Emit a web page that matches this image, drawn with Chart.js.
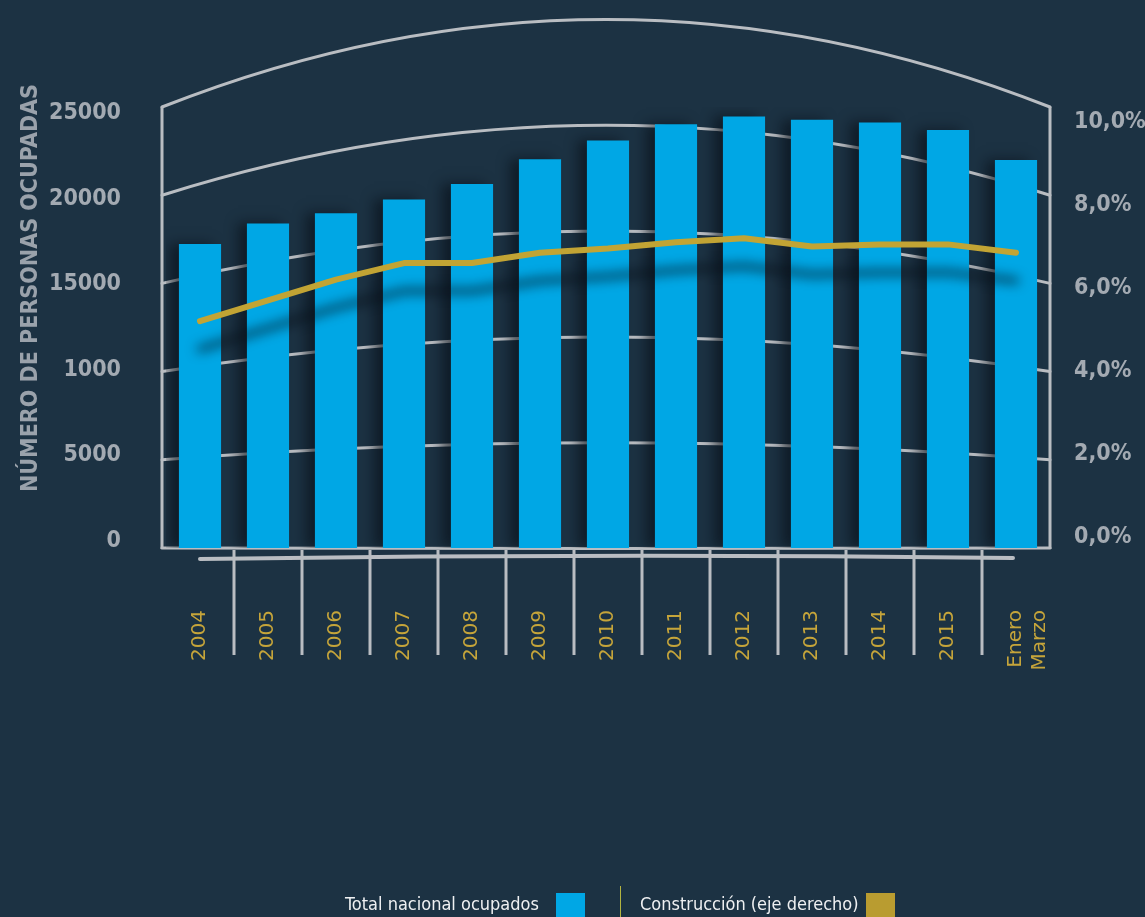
<!DOCTYPE html>
<html lang="es">
<head>
<meta charset="utf-8">
<title>Número de personas ocupadas</title>
<script src="https://cdn.jsdelivr.net/npm/chart.js@4.4.1/dist/chart.umd.min.js"></script>
<style>
  html, body { margin: 0; padding: 0; background: #1c3243; }
  #wrap { position: relative; width: 1145px; height: 917px; overflow: hidden; background: #1c3243; }
  #chart { position: absolute; left: 0; top: 0; }
  .legend-text { position: absolute; top: 893px; font-family: 'DejaVu Sans Condensed', 'Liberation Sans Narrow', 'Roboto', sans-serif; font-size: 18px; color: #eef0f2; white-space: nowrap; }
  .swatch { position: absolute; top: 893px; width: 29px; height: 24px; }
  .divider { position: absolute; left: 620px; top: 886px; width: 1px; height: 31px; background: #b3b440; }
</style>
</head>
<body>
<div id="wrap">
  <canvas id="chart" width="1145" height="917"></canvas>
  <div class="legend-text" style="left:345px;">Total nacional ocupados</div>
  <div class="swatch" style="left:556px;background:#00a7e5;"></div>
  <div class="divider"></div>
  <div class="legend-text" style="left:640px;">Construcción (eje derecho)</div>
  <div class="swatch" style="left:866px;background:#b99c30;"></div>
</div>
<script>
(function () {
  'use strict';

  // categories and values
  var years = ['2004', '2005', '2006', '2007', '2008', '2009', '2010', '2011', '2012', '2013', '2014', '2015', ['Enero', 'Marzo']];
  var ocupados = [17350, 18550, 19150, 19950, 20850, 22300, 23400, 24350, 24800, 24600, 24450, 24000, 22250];
  var construccion = [5.2, 5.7, 6.2, 6.6, 6.6, 6.85, 6.95, 7.1, 7.2, 7.0, 7.05, 7.05, 6.85];

  // axis ticks, as printed
  var leftTickValues = [0, 5000, 10000, 15000, 20000, 25000];
  var leftTickLabels = ['0', '5000', '1000', '15000', '20000', '25000'];
  var rightTickValues = [0, 2, 4, 6, 8, 10];
  var rightTickLabels = ['0,0%', '2,0%', '4,0%', '6,0%', '8,0%', '10,0%'];

  var yTitle = 'NÚMERO DE PERSONAS OCUPADAS';

  var COND = "'DejaVu Sans Condensed', 'Liberation Sans Narrow', 'Roboto', sans-serif";
  var FRAME = '#b9bdc2';
  var LEFT_MIN = -400;

  // curved grid, frame and separators behind the bars
  var framePlugin = {
    id: 'frame',
    beforeDatasetsDraw: function (chart) {
      var ctx = chart.ctx;
      var a = chart.chartArea;
      var L = a.left - 4, R = a.right;
      var cx = (L + R) / 2;
      var bottom = a.bottom, top = a.top;
      ctx.save();
      ctx.strokeStyle = FRAME;
      ctx.lineWidth = 3;
      ctx.lineCap = 'round';
      for (var i = 0; i < leftTickValues.length; i++) {
        var f = i / (leftTickValues.length - 1);
        var yE = bottom - (bottom - top) * f;
        var yC = (bottom - 3) - (bottom - 3 - yE) * 1.2;
        ctx.beginPath();
        ctx.moveTo(L, yE);
        ctx.quadraticCurveTo(cx, 2 * yC - yE, R, yE);
        ctx.stroke();
      }
      ctx.lineCap = 'butt';
      ctx.beginPath();
      ctx.moveTo(L, top);
      ctx.lineTo(L, bottom + 1);
      ctx.moveTo(R, top);
      ctx.lineTo(R, bottom + 1);
      ctx.stroke();

      var x = chart.scales.x;
      ctx.lineWidth = 3;
      for (var j = 1; j < years.length; j++) {
        var sx = (x.getPixelForTick(j - 1) + x.getPixelForTick(j)) / 2;
        ctx.beginPath();
        ctx.moveTo(sx, bottom + 2);
        ctx.lineTo(sx, bottom + 107);
        ctx.stroke();
      }
      ctx.lineWidth = 4;
      ctx.lineCap = 'round';
      ctx.beginPath();
      ctx.moveTo(x.getPixelForTick(0), bottom + 11);
      ctx.quadraticCurveTo(cx, bottom + 5, x.getPixelForTick(years.length - 1) - 3, bottom + 10);
      ctx.stroke();
      ctx.restore();
    },
    beforeDatasetDraw: function (chart, args) {
      var ctx = chart.ctx;
      ctx.save();
      if (args.meta.type === 'bar') {
        ctx.shadowColor = 'rgba(6, 14, 22, 0.6)';
        ctx.shadowBlur = 12;
        ctx.shadowOffsetX = -9;
        ctx.shadowOffsetY = 0;
      } else {
        ctx.shadowColor = 'rgba(4, 12, 20, 0.7)';
        ctx.shadowBlur = 12;
        ctx.shadowOffsetX = 0;
        ctx.shadowOffsetY = 28;
      }
    },
    afterDatasetDraw: function (chart) {
      chart.ctx.restore();
    },
    afterDraw: function (chart) {
      var ctx = chart.ctx;
      ctx.save();
      ctx.translate(31, 288);
      ctx.rotate(-Math.PI / 2);
      ctx.font = 'bold 23px ' + COND;
      ctx.fillStyle = '#9aa2ab';
      ctx.textAlign = 'center';
      ctx.textBaseline = 'middle';
      ctx.fillText(yTitle, 0, 0);
      ctx.restore();
    }
  };

  new Chart(document.getElementById('chart'), {
    data: {
      labels: years,
      datasets: [
        {
          type: 'line',
          label: 'Construcción (eje derecho)',
          data: construccion,
          yAxisID: 'y1',
          order: 0,
          borderColor: '#c2a434',
          borderWidth: 6,
          borderCapStyle: 'round',
          borderJoinStyle: 'round',
          pointRadius: 0,
          tension: 0
        },
        {
          type: 'bar',
          label: 'Total nacional ocupados',
          data: ocupados,
          yAxisID: 'y',
          order: 1,
          base: LEFT_MIN,
          backgroundColor: '#00a7e5',
          borderWidth: 0,
          barPercentage: 0.62,
          categoryPercentage: 1
        }
      ]
    },
    options: {
      responsive: false,
      animation: false,
      layout: { padding: { top: 107, left: 0, right: 0, bottom: 0 } },
      plugins: {
        legend: { display: false },
        tooltip: { enabled: false }
      },
      scales: {
        x: {
          grid: { display: false, drawTicks: false },
          border: { display: false },
          afterFit: function (scale) { scale.height = 369; },
          ticks: {
            autoSkip: false,
            minRotation: 90,
            maxRotation: 90,
            padding: 62,
            color: '#c6a53a',
            font: { family: "'DejaVu Sans', sans-serif", size: 20 }
          }
        },
        y: {
          position: 'left',
          min: LEFT_MIN,
          max: 25350,
          grid: { display: false, drawTicks: false },
          border: { display: false },
          afterFit: function (scale) { scale.width = 166; },
          afterBuildTicks: function (scale) {
            scale.ticks = leftTickValues.map(function (v) { return { value: v }; });
          },
          ticks: {
            padding: 45,
            color: '#a3aab2',
            font: { family: COND, size: 23, weight: 'bold' },
            callback: function (value) {
              var i = leftTickValues.indexOf(value);
              return i >= 0 ? leftTickLabels[i] : '';
            }
          }
        },
        y1: {
          position: 'right',
          min: -0.265,
          max: 10.36,
          grid: { display: false, drawTicks: false },
          border: { display: false },
          afterFit: function (scale) { scale.width = 95; },
          afterBuildTicks: function (scale) {
            scale.ticks = rightTickValues.map(function (v) { return { value: v }; });
          },
          ticks: {
            padding: 24,
            color: '#a3aab2',
            font: { family: COND, size: 23, weight: 'bold' },
            callback: function (value) {
              var i = rightTickValues.indexOf(value);
              return i >= 0 ? rightTickLabels[i] : '';
            }
          }
        }
      }
    },
    plugins: [framePlugin]
  });
})();
</script>
</body>
</html>
